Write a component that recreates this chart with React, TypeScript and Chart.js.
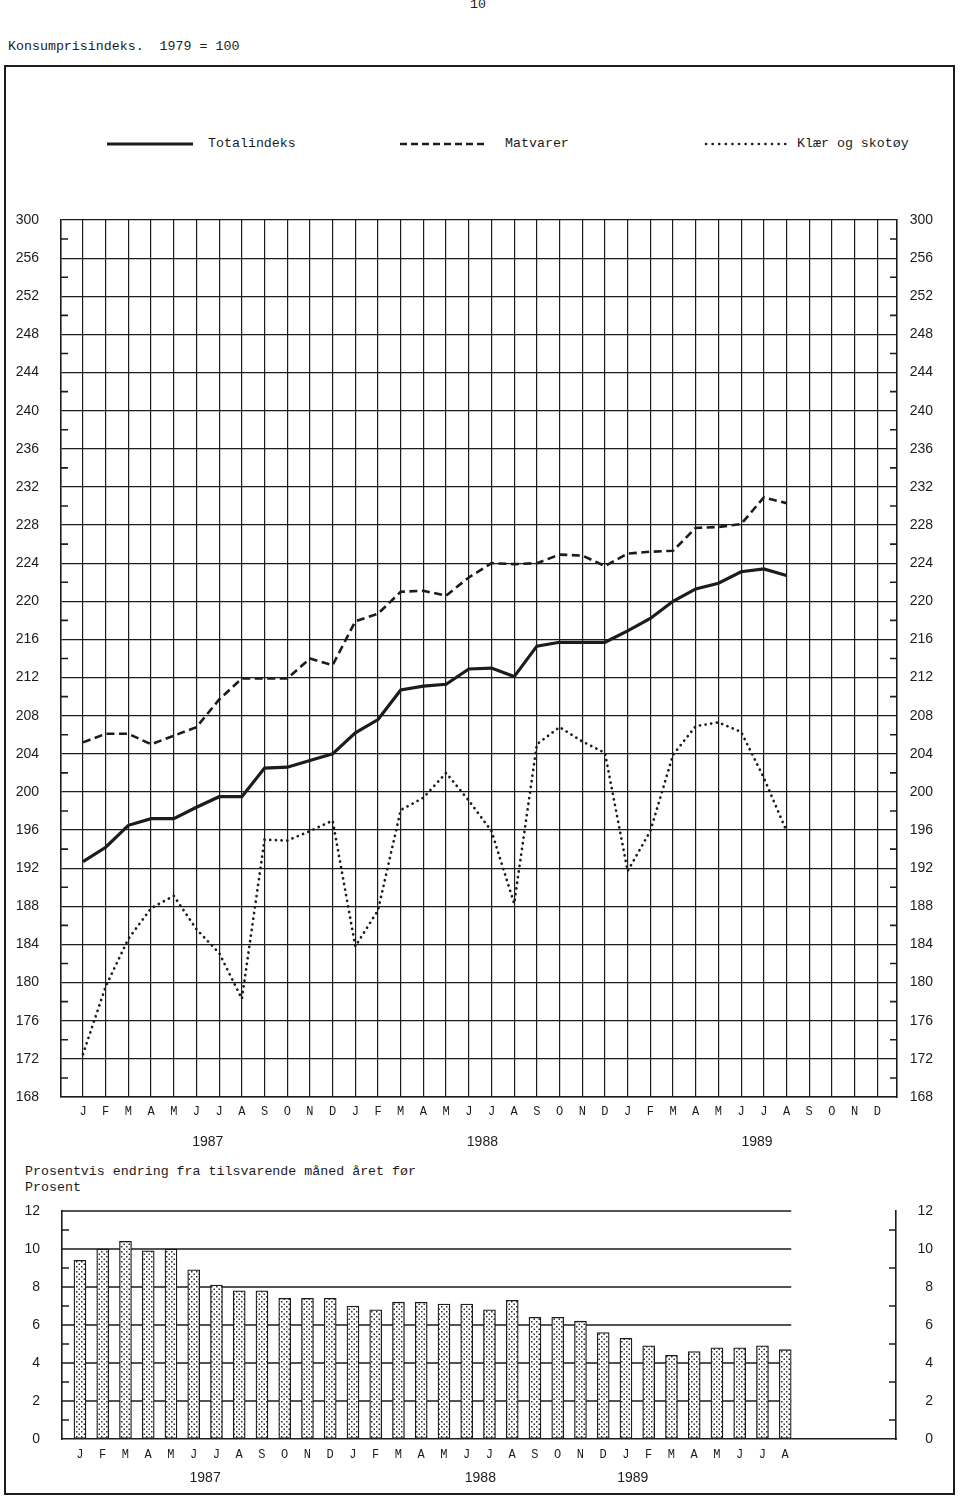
import React, { useEffect, useRef } from 'react';
import { Chart, registerables } from 'chart.js';

Chart.register(...registerables);

// ---------- data ----------
const monthLetters = ['J', 'F', 'M', 'A', 'M', 'J', 'J', 'A', 'S', 'O', 'N', 'D'];
const lineMonths = [...monthLetters, ...monthLetters, ...monthLetters]; // 1987-1989
const barMonths = lineMonths.slice(0, 32); // J 1987 - A 1989
const yearLabels = ['1987', '1988', '1989'];
const topBreakLabel = '300'; // the top gridline of the broken axis is labelled 300

const totalIndex = [
  192.7, 194.2, 196.5, 197.2, 197.2, 198.4, 199.5, 199.5, 202.5, 202.6, 203.3, 204.0,
  206.2, 207.6, 210.7, 211.1, 211.3, 212.9, 213.0, 212.1, 215.3, 215.7, 215.7, 215.7,
  216.9, 218.2, 220.0, 221.3, 221.9, 223.1, 223.4, 222.7,
];
const foodIndex = [
  205.2, 206.1, 206.1, 205.0, 205.9, 206.8, 209.7, 211.9, 211.9, 211.9, 214.0, 213.3,
  217.9, 218.7, 221.0, 221.1, 220.6, 222.5, 224.0, 223.9, 224.0, 224.9, 224.8, 223.7,
  225.0, 225.2, 225.3, 227.7, 227.8, 228.1, 230.9, 230.3,
];
const clothingIndex = [
  172.5, 179.6, 184.6, 187.8, 189.1, 185.6, 183.1, 178.3, 195.0, 194.9, 195.9, 197.0,
  183.8, 187.6, 198.1, 199.4, 202.0, 199.1, 195.9, 188.3, 205.0, 206.8, 205.3, 204.1,
  191.7, 195.9, 203.9, 206.9, 207.3, 206.3, 201.5, 195.9,
];
const yoyChange = [
  9.4, 10.0, 10.4, 9.9, 10.0, 8.9, 8.1, 7.8, 7.8, 7.4, 7.4, 7.4,
  7.0, 6.8, 7.2, 7.2, 7.1, 7.1, 6.8, 7.3, 6.4, 6.4, 6.2, 5.6,
  5.3, 4.9, 4.4, 4.6, 4.8, 4.8, 4.9, 4.7,
];

// ---------- styles ----------
const INK = '#1c1c1c';
const NONE = 'rgba(0,0,0,0)';
const MONO = "'Liberation Mono', 'DejaVu Sans Mono', monospace";
const SANS = "'Liberation Sans', Arial, sans-serif";

const toXY = (arr: number[]) => arr.map((v, i) => ({ x: i, y: v }));

function minorTicks(len: number) {
  return {
    id: 'minorTicks',
    afterDraw(chart: any) {
      const { ctx, chartArea, scales } = chart;
      const y = scales.y;
      const t = y.ticks;
      ctx.save();
      ctx.strokeStyle = INK;
      ctx.lineWidth = 1.6;
      ctx.beginPath();
      for (let k = 0; k < t.length - 1; k++) {
        const py = y.getPixelForValue((t[k].value + t[k + 1].value) / 2);
        ctx.moveTo(chartArea.left, py);
        ctx.lineTo(chartArea.left + len, py);
        ctx.moveTo(chartArea.right - len, py);
        ctx.lineTo(chartArea.right, py);
      }
      ctx.stroke();
      ctx.restore();
    },
  };
}

const barGrid = {
  id: 'barGrid',
  beforeDatasetsDraw(chart: any) {
    const { ctx, chartArea, scales } = chart;
    const xEnd = scales.x.getPixelForValue(yoyChange.length - 1) + 6;
    ctx.save();
    ctx.strokeStyle = INK;
    ctx.lineWidth = 1.4;
    ctx.beginPath();
    scales.y.ticks.forEach((t: any) => {
      if (t.value > 0) {
        const py = scales.y.getPixelForValue(t.value);
        ctx.moveTo(chartArea.left, py);
        ctx.lineTo(xEnd, py);
      }
    });
    ctx.stroke();
    ctx.restore();
  },
};

function makeDots(): CanvasPattern | string {
  const c = document.createElement('canvas');
  c.width = 5;
  c.height = 5;
  const g = c.getContext('2d');
  if (!g) return '#ddd';
  g.fillStyle = '#ffffff';
  g.fillRect(0, 0, 5, 5);
  g.fillStyle = '#2a2a2a';
  g.fillRect(1, 1, 1.5, 1.5);
  g.fillRect(3.5, 3.5, 1.5, 1.5);
  return g.createPattern(c, 'repeat') || '#ddd';
}

export default function App() {
  const topRef = useRef<HTMLCanvasElement>(null);
  const botRef = useRef<HTMLCanvasElement>(null);

  useEffect(() => {
    const monthFont = { family: MONO, size: 12 };
    const numFont = { family: SANS, size: 14 };

    const topYearPos = [5.5, 17.6, 29.7];
    const top = new Chart(topRef.current as HTMLCanvasElement, {
      type: 'line',
      data: {
        datasets: [
          {
            label: 'Totalindeks',
            data: toXY(totalIndex),
            borderColor: INK,
            borderWidth: 3.2,
            pointRadius: 0,
            tension: 0,
          },
          {
            label: 'Matvarer',
            data: toXY(foodIndex),
            borderColor: INK,
            borderWidth: 2.6,
            borderDash: [8, 4.5],
            pointRadius: 0,
            tension: 0,
          },
          {
            label: 'Klær og skotøy',
            data: toXY(clothingIndex),
            borderColor: INK,
            borderWidth: 2.7,
            borderDash: [0.1, 5.6],
            borderCapStyle: 'round',
            pointRadius: 0,
            tension: 0,
          },
        ],
      } as any,
      options: {
        responsive: false,
        animation: false,
        devicePixelRatio: 1,
        layout: { padding: { left: 0, right: 27, top: 20, bottom: 0 } },
        plugins: { legend: { display: false }, tooltip: { enabled: false } },
        scales: {
          x: {
            type: 'linear',
            position: 'bottom',
            weight: 0,
            offset: false,
            min: -0.97,
            max: 35.87,
            afterBuildTicks: (s: any) => {
              s.ticks = lineMonths.map((_, i) => ({ value: i }));
            },
            afterFit: (s: any) => {
              s.height = 30;
            },
            ticks: {
              autoSkip: false,
              maxRotation: 0,
              padding: 8,
              color: INK,
              font: monthFont,
              callback: (v: any) => lineMonths[v] ?? '',
            },
            grid: { color: INK, lineWidth: 1.2, drawTicks: false },
            border: { display: true, color: INK, width: 1.6 },
          },
          xYear: {
            type: 'linear',
            position: 'bottom',
            weight: 1,
            offset: false,
            min: -0.97,
            max: 35.87,
            afterBuildTicks: (s: any) => {
              s.ticks = yearLabels.map((_, k) => ({ value: topYearPos[k] }));
            },
            afterFit: (s: any) => {
              s.height = 33;
            },
            ticks: {
              autoSkip: false,
              maxRotation: 0,
              padding: 7,
              color: INK,
              font: numFont,
              callback: (_v: any, idx: number) => yearLabels[idx],
            },
            grid: { display: false, drawTicks: false },
            border: { display: false },
          },
          y: {
            type: 'linear',
            position: 'left',
            min: 168,
            max: 260,
            afterFit: (s: any) => {
              s.width = 61;
            },
            ticks: {
              stepSize: 4,
              padding: 0,
              color: INK,
              font: numFont,
              callback: (v: any) => (v === 260 ? topBreakLabel : String(v)),
            },
            grid: { color: INK, lineWidth: 1.2, drawTicks: true, tickLength: 22, tickColor: NONE },
            border: { display: true, color: INK, width: 1.6 },
          },
          y2: {
            type: 'linear',
            position: 'right',
            min: 168,
            max: 260,
            afterFit: (s: any) => {
              s.width = 36;
            },
            ticks: {
              stepSize: 4,
              padding: 0,
              crossAlign: 'far',
              color: INK,
              font: numFont,
              callback: (v: any) => (v === 260 ? topBreakLabel : String(v)),
            },
            grid: { display: false, drawTicks: false },
            border: { display: true, color: INK, width: 1.6 },
          },
        },
      } as any,
      plugins: [minorTicks(7)],
    });

    const barYearPos = [5.5, 17.6, 24.3];
    const bot = new Chart(botRef.current as HTMLCanvasElement, {
      type: 'bar',
      data: {
        datasets: [
          {
            label: 'Prosentvis endring',
            data: toXY(yoyChange),
            backgroundColor: makeDots(),
            borderColor: INK,
            borderWidth: 1.3,
            borderSkipped: false,
            barThickness: 12,
          },
        ],
      } as any,
      options: {
        responsive: false,
        animation: false,
        devicePixelRatio: 1,
        layout: { padding: { left: 0, right: 27, top: 16, bottom: 0 } },
        plugins: { legend: { display: false }, tooltip: { enabled: false } },
        scales: {
          x: {
            type: 'linear',
            position: 'bottom',
            weight: 0,
            z: 1,
            offset: false,
            min: -0.79,
            max: 35.87,
            afterBuildTicks: (s: any) => {
              s.ticks = barMonths.map((_, i) => ({ value: i }));
            },
            afterFit: (s: any) => {
              s.height = 28;
            },
            ticks: {
              autoSkip: false,
              maxRotation: 0,
              padding: 9,
              color: INK,
              font: monthFont,
              callback: (v: any) => barMonths[v] ?? '',
            },
            grid: { display: false, drawTicks: false },
            border: { display: true, color: INK, width: 1.6 },
          },
          xYear: {
            type: 'linear',
            position: 'bottom',
            weight: 1,
            offset: false,
            min: -0.79,
            max: 35.87,
            afterBuildTicks: (s: any) => {
              s.ticks = yearLabels.map((_, k) => ({ value: barYearPos[k] }));
            },
            afterFit: (s: any) => {
              s.height = 28;
            },
            ticks: {
              autoSkip: false,
              maxRotation: 0,
              padding: 3,
              color: INK,
              font: numFont,
              callback: (_v: any, idx: number) => yearLabels[idx],
            },
            grid: { display: false, drawTicks: false },
            border: { display: false },
          },
          y: {
            type: 'linear',
            position: 'left',
            min: 0,
            max: 12,
            afterFit: (s: any) => {
              s.width = 62;
            },
            ticks: { stepSize: 2, padding: 0, color: INK, font: numFont },
            grid: {
              display: true,
              drawOnChartArea: false,
              color: NONE,
              drawTicks: true,
              tickLength: 22,
              tickColor: NONE,
            },
            border: { display: true, color: INK, width: 1.6 },
          },
          y2: {
            type: 'linear',
            position: 'right',
            min: 0,
            max: 12,
            afterFit: (s: any) => {
              s.width = 37;
            },
            ticks: { stepSize: 2, padding: 0, crossAlign: 'far', color: INK, font: numFont },
            grid: { display: false, drawTicks: false },
            border: { display: true, color: INK, width: 1.6 },
          },
        },
      } as any,
      plugins: [barGrid, minorTicks(7)],
    });

    return () => {
      top.destroy();
      bot.destroy();
    };
  }, []);

  const text: React.CSSProperties = {
    position: 'absolute',
    fontFamily: MONO,
    fontSize: '13.3px',
    lineHeight: '16px',
    color: INK,
    whiteSpace: 'pre',
  };

  return (
    <div
      style={{
        position: 'absolute',
        left: 0,
        top: 0,
        width: 960,
        height: 1498,
        background: '#fff',
        overflow: 'hidden',
      }}
    >
      <div style={{ ...text, left: 470, top: -3 }}>10</div>
      <div style={{ ...text, left: 8, top: 39 }}>Konsumprisindeks.  1979 = 100</div>

      <div
        style={{
          position: 'absolute',
          left: 4,
          top: 65,
          width: 951,
          height: 1430,
          boxSizing: 'border-box',
          border: `2px solid ${INK}`,
        }}
      />

      {/* legend */}
      <svg style={{ position: 'absolute', left: 0, top: 136 }} width={960} height={16}>
        <line x1={107} y1={8} x2={193} y2={8} stroke={INK} strokeWidth={3.2} />
        <line x1={400} y1={8} x2={488} y2={8} stroke={INK} strokeWidth={2.6} strokeDasharray="7 4" />
        <line
          x1={706}
          y1={8}
          x2={790}
          y2={8}
          stroke={INK}
          strokeWidth={2.6}
          strokeDasharray="0.1 6.5"
          strokeLinecap="round"
        />
      </svg>
      <div style={{ ...text, left: 208, top: 136 }}>Totalindeks</div>
      <div style={{ ...text, left: 505, top: 136 }}>Matvarer</div>
      <div style={{ ...text, left: 797, top: 136 }}>Klær og skotøy</div>

      <canvas
        ref={topRef}
        width={960}
        height={960}
        style={{ position: 'absolute', left: 0, top: 200, width: 960, height: 960 }}
      />

      <div style={{ ...text, left: 25, top: 1164 }}>Prosentvis endring fra tilsvarende måned året før</div>
      <div style={{ ...text, left: 25, top: 1180 }}>Prosent</div>

      <canvas
        ref={botRef}
        width={960}
        height={300}
        style={{ position: 'absolute', left: 0, top: 1195, width: 960, height: 300 }}
      />
    </div>
  );
}
